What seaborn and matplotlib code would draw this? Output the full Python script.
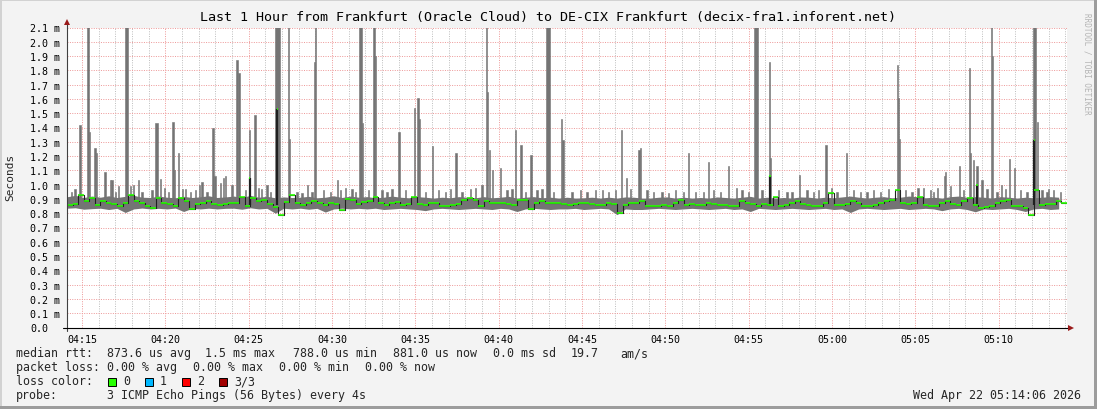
import matplotlib
matplotlib.use("Agg")
import matplotlib.pyplot as plt
import seaborn as sns
import pandas as pd
from matplotlib.patches import Rectangle

# ---------------- data (times in minutes after 04:00) ----------------
TITLE = "Last 1 Hour from Frankfurt (Oracle Cloud) to DE-CIX Frankfurt (decix-fra1.inforent.net)"
T_START = 14.1
T_END = 74.1
MEDIAN_STEP_MIN = 1 / 3    # 20 s
SMOKE_STEP_MIN = 0.5       # 30 s

median_ms = [
    0.855, 0.862, 0.930, 0.885, 0.905, 0.860, 0.884, 0.872, 0.868, 0.850, 0.875, 0.925, 0.884, 0.870, 0.848,
    0.840, 0.905, 0.875, 0.868, 0.850, 0.905, 0.884, 0.830, 0.865, 0.872, 0.884, 0.868, 0.860, 0.862, 0.870,
    0.875, 0.915, 0.850, 0.905, 0.884, 0.892, 0.862, 0.845, 0.790, 0.880, 0.930, 0.872, 0.860, 0.870, 0.884,
    0.870, 0.860, 0.875, 0.868, 0.820, 0.900, 0.895, 0.862, 0.880, 0.885, 0.915, 0.872, 0.860, 0.872, 0.882,
    0.860, 0.865, 0.912, 0.862, 0.860, 0.872, 0.875, 0.848, 0.850, 0.860, 0.862, 0.895, 0.905, 0.892, 0.850,
    0.885, 0.870, 0.875, 0.872, 0.862, 0.860, 0.895, 0.890, 0.830, 0.875, 0.884, 0.872, 0.870, 0.872, 0.868,
    0.860, 0.862, 0.872, 0.870, 0.862, 0.858, 0.860, 0.872, 0.868, 0.800, 0.860, 0.872, 0.875, 0.884, 0.850,
    0.848, 0.852, 0.860, 0.848, 0.872, 0.895, 0.860, 0.862, 0.860, 0.858, 0.872, 0.862, 0.860, 0.858, 0.848,
    0.850, 0.884, 0.872, 0.868, 0.848, 0.862, 0.860, 0.915, 0.848, 0.860, 0.872, 0.884, 0.862, 0.860, 0.848,
    0.850, 0.875, 0.945, 0.860, 0.860, 0.862, 0.884, 0.875, 0.848, 0.850, 0.860, 0.872, 0.884, 0.895, 0.960,
    0.872, 0.862, 0.875, 0.915, 0.860, 0.848, 0.850, 0.872, 0.884, 0.862, 0.860, 0.884, 0.905, 0.860, 0.837,
    0.845, 0.852, 0.872, 0.884, 0.895, 0.850, 0.848, 0.838, 0.790, 0.965, 0.860, 0.862, 0.862, 0.884, 0.872,
]

smoke_low_ms = [
    0.835, 0.838, 0.828, 0.832, 0.835, 0.826, 0.834, 0.805, 0.830, 0.836,
    0.830, 0.834, 0.830, 0.836, 0.812, 0.834, 0.830, 0.835, 0.830, 0.834,
    0.835, 0.828, 0.838, 0.830, 0.834, 0.800, 0.835, 0.830, 0.835, 0.828,
    0.834, 0.808, 0.830, 0.835, 0.830, 0.834, 0.830, 0.835, 0.826, 0.830,
    0.834, 0.830, 0.826, 0.818, 0.830, 0.834, 0.830, 0.826, 0.830, 0.834,
    0.830, 0.826, 0.834, 0.830, 0.812, 0.830, 0.834, 0.830, 0.826, 0.830,
    0.830, 0.834, 0.826, 0.830, 0.834, 0.830, 0.790, 0.830, 0.826, 0.826,
    0.830, 0.834, 0.830, 0.826, 0.830, 0.834, 0.830, 0.826, 0.830, 0.834,
    0.826, 0.830, 0.812, 0.834, 0.830, 0.826, 0.830, 0.834, 0.830, 0.826,
    0.830, 0.834, 0.826, 0.830, 0.805, 0.830, 0.834, 0.830, 0.826, 0.830,
    0.834, 0.826, 0.830, 0.834, 0.830, 0.818, 0.830, 0.834, 0.826, 0.810,
    0.830, 0.826, 0.830, 0.834, 0.826, 0.812, 0.830, 0.834, 0.826, 0.830,
]

smoke_high_ms = [
    0.915, 0.925, 0.910, 0.920, 0.912, 0.922, 0.910, 0.918, 0.925, 0.912,
    0.910, 0.920, 0.912, 0.908, 0.918, 0.910, 0.915, 0.922, 0.910, 0.914,
    0.920, 0.910, 0.925, 0.912, 0.918, 0.908, 0.914, 0.910, 0.912, 0.918,
    0.908, 0.912, 0.922, 0.910, 0.920, 0.912, 0.916, 0.908, 0.912, 0.920,
    0.912, 0.908, 0.916, 0.912, 0.906, 0.912, 0.908, 0.916, 0.912, 0.908,
    0.916, 0.908, 0.912, 0.918, 0.906, 0.912, 0.916, 0.908, 0.912, 0.906,
    0.912, 0.906, 0.908, 0.912, 0.906, 0.912, 0.906, 0.914, 0.912, 0.906,
    0.906, 0.912, 0.914, 0.906, 0.912, 0.906, 0.910, 0.906, 0.914, 0.910,
    0.906, 0.912, 0.918, 0.906, 0.912, 0.906, 0.910, 0.906, 0.914, 0.912,
    0.906, 0.912, 0.908, 0.914, 0.920, 0.912, 0.906, 0.912, 0.916, 0.908,
    0.912, 0.920, 0.916, 0.908, 0.912, 0.906, 0.916, 0.920, 0.912, 0.916,
    0.912, 0.906, 0.916, 0.912, 0.906, 0.912, 0.908, 0.912, 0.916, 0.912,
]

# tall smoke spikes: centre time (min), top value (ms), duration (s)
spike_time_min = [
    14.88, 15.34, 15.44, 15.78, 15.86, 16.40, 16.80, 17.18, 17.67, 18.07, 18.37, 19.47, 19.97,
    20.47, 20.57, 20.79, 21.05, 22.05, 22.86, 22.98, 23.48, 24.32, 24.42, 25.06, 25.40, 25.58,
    26.10, 26.72, 27.40, 27.46, 28.55, 28.93, 29.01, 30.31, 30.81, 31.71, 31.81, 32.53, 32.63,
    34.02, 34.94, 35.16, 35.22, 36.02, 37.44,
    39.00, 39.27, 39.33, 39.43, 39.63, 40.13, 41.00, 41.34, 41.94, 42.96, 43.76, 43.84, 46.25,
    47.35, 47.65, 48.41, 48.53,
    51.40, 52.61, 53.81, 54.27, 55.43, 56.27, 56.33, 58.04, 59.64, 59.98, 60.88,
    63.91, 63.97, 64.03, 65.16, 66.34, 66.74, 66.82, 67.64, 68.24, 68.32, 68.50, 68.70, 69.00,
    69.59, 69.65, 70.15, 70.65, 70.93, 72.15, 72.31, 73.01,
]
spike_top_ms = [
    1.42, 2.30, 1.37, 1.26, 1.22, 1.09, 1.03, 0.99, 2.30, 1.00, 1.03, 1.43, 0.98,
    1.44, 1.10, 1.22, 0.97, 1.00, 1.40, 1.06, 1.05, 1.87, 1.78, 1.38, 1.49, 0.98,
    1.00, 2.30, 2.30, 1.32, 1.00, 1.86, 2.30, 1.03, 0.98, 2.30, 1.43, 2.30, 1.90,
    1.37, 1.54, 1.61, 1.46, 1.27, 1.22,
    1.00, 2.30, 1.65, 1.24, 1.10, 1.12, 1.38, 1.28, 1.21, 2.30, 1.46, 1.31, 0.96,
    1.38, 1.05, 1.24, 1.26,
    1.22, 1.16, 1.13, 0.98, 2.30, 1.86, 1.19, 1.07, 1.28, 0.98, 1.22,
    1.84, 1.61, 1.32, 0.98, 0.98, 1.06, 1.09, 1.13, 1.82, 1.22, 1.17, 1.13, 1.03,
    2.30, 1.90, 1.00, 1.18, 1.12, 2.30, 1.44, 0.97,
]
spike_dur_s = [
    8, 8, 4, 4, 4, 8, 4, 4, 12, 4, 4, 8, 4,
    8, 4, 4, 4, 4, 8, 4, 4, 8, 4, 4, 8, 4,
    8, 16, 4, 4, 4, 4, 4, 4, 4, 8, 4, 8, 4,
    4, 4, 4, 4, 4, 4,
    4, 4, 4, 4, 4, 4, 4, 4, 4, 12, 4, 8, 4,
    4, 4, 8, 4,
    4, 4, 4, 4, 12, 4, 4, 4, 4, 4, 4,
    4, 4, 4, 4, 4, 4, 4, 4, 4, 4, 4, 4, 4,
    4, 4, 4, 4, 4, 12, 4, 4,
]

# small smoke spikes along the band (4 s each): time (min), top (ms)
small_spike_time_min = [
    14.35, 14.58, 16.70, 17.00, 17.90, 18.60, 19.20, 19.70, 20.20, 21.20, 21.50, 21.80, 22.20,
    22.50, 23.30, 23.60, 24.00, 24.80, 25.75, 26.30, 27.90, 28.20, 28.80, 29.50, 29.90, 30.50,
    31.20, 31.40, 32.20, 33.00, 33.30, 33.60, 34.40, 35.60, 36.40, 36.80, 37.10, 37.80, 38.30,
    38.60, 40.50, 40.80, 41.60, 42.30, 42.60, 43.30, 44.40, 44.90, 45.30, 45.80, 46.60, 47.00,
    47.90, 48.90, 49.30, 49.80, 50.20, 50.60, 51.10, 51.80, 52.30, 52.90, 53.30, 54.60, 55.00,
    55.80, 56.80, 57.30, 57.60, 58.50, 58.90, 59.20, 60.30, 61.30, 61.70, 62.10, 62.50, 62.90,
    63.40, 64.40, 64.80, 65.50, 65.90, 66.10, 67.10, 67.90, 69.30, 69.90, 70.40, 71.30, 71.70,
    72.60, 72.90, 73.30, 73.70,
]
small_spike_top_ms = [
    0.95, 0.97, 1.03, 0.95, 0.99, 0.95, 0.96, 1.04, 0.95, 0.97, 0.95, 0.96, 1.02,
    0.95, 1.01, 1.06, 1.00, 0.96, 0.97, 0.95, 0.95, 0.94, 0.95, 0.96, 0.95, 0.96,
    0.97, 0.95, 0.96, 0.96, 0.95, 0.97, 0.96, 0.95, 0.96, 0.95, 0.97, 0.95, 0.97,
    0.98, 0.96, 0.97, 0.95, 0.96, 0.97, 0.95, 0.95, 0.96, 0.95, 0.96, 0.95, 0.96,
    0.97, 0.96, 0.95, 0.95, 0.94, 0.96, 0.95, 0.95, 0.95, 0.96, 0.95, 0.96, 0.95,
    0.96, 0.96, 0.95, 0.95, 0.96, 0.95, 0.96, 0.95, 0.96, 0.95, 0.95, 0.96, 0.95,
    0.97, 0.96, 0.95, 0.98, 0.96, 0.95, 0.99, 0.96, 0.97, 0.95, 0.97, 0.96, 0.95,
    0.96, 0.95, 0.96, 0.95,
]

# short median excursions (time min, value ms)
median_spike_time_min = [25.06, 26.72, 56.27, 68.70, 72.14]
median_spike_ms = [1.05, 1.53, 1.06, 1.00, 1.31]

xtick_minutes = [15, 20, 25, 30, 35, 40, 45, 50, 55, 60, 65, 70]
xtick_labels = ["04:15", "04:20", "04:25", "04:30", "04:35", "04:40",
                "04:45", "04:50", "04:55", "05:00", "05:05", "05:10"]
ytick_values = [0.0, 0.1, 0.2, 0.3, 0.4, 0.5, 0.6, 0.7, 0.8, 0.9, 1.0,
                1.1, 1.2, 1.3, 1.4, 1.5, 1.6, 1.7, 1.8, 1.9, 2.0, 2.1]
ytick_labels = ["0.0"] + [f"{v:.1f} m" for v in ytick_values[1:]]

legend_rtt = [("median rtt:", 16), ("873.6 us avg", 107), ("1.5 ms max", 205),
              ("788.0 us min", 293), ("881.0 us now", 393), ("0.0 ms sd", 493),
              ("19.7", 571), ("am/s", 620)]
legend_loss = [("packet loss:", 16), ("0.00 % avg", 107), ("0.00 % max", 193),
               ("0.00 % min", 279), ("0.00 % now", 365)]
loss_names = ["0", "1", "2", "3/3"]
loss_colors = ["#26ff00", "#00b8ff", "#ff0000", "#a10000"]
probe_text = "3 ICMP Echo Pings (56 Bytes) every 4s"
date_text = "Wed Apr 22 05:14:06 2026"

# ---------------- style ----------------
W, H = 1097, 410
sns.set_style("white")
plt.rcParams["font.family"] = ["DejaVu Sans Mono", "DejaVu Sans"]
plt.rcParams["lines.scale_dashes"] = False
BG = "#f3f3f3"
SMOKE = "#747474"

fig = plt.figure(figsize=(W / 100, H / 100), dpi=100, facecolor=BG)
ax = fig.add_axes([67 / W, (H - 328.5) / H, 1000 / W, 300 / H])
ax.set_facecolor("white")

med_t = [T_START + i * MEDIAN_STEP_MIN for i in range(len(median_ms))]
smk_t = [T_START + i * SMOKE_STEP_MIN for i in range(len(smoke_low_ms))]
med_df = pd.DataFrame({"t": med_t + [T_END], "v": median_ms + [median_ms[-1]]})

# smoke
ax.fill_between(smk_t, smoke_low_ms, smoke_high_ms, color=SMOKE, lw=0, zorder=2)
ax.bar(small_spike_time_min, [top - 0.88 for top in small_spike_top_ms], bottom=0.88,
       width=4 / 60, color=SMOKE, edgecolor=SMOKE, linewidth=0.4, zorder=2)
ax.bar(spike_time_min, [top - 0.88 for top in spike_top_ms], bottom=0.88,
       width=[d / 60 for d in spike_dur_s], color=SMOKE, edgecolor=SMOKE,
       linewidth=0.4, zorder=2)

# median line (black) and loss-colored median band
sns.lineplot(data=med_df, x="t", y="v", drawstyle="steps-post", estimator=None,
             color="#202020", linewidth=0.8, ax=ax, zorder=3)
ax.vlines(median_spike_time_min, [0.86] * len(median_spike_ms), median_spike_ms,
          color="#202020", linewidth=1.6, zorder=3)
ax.hlines(median_ms, med_t, [t + MEDIAN_STEP_MIN for t in med_t],
          color=loss_colors[0], linewidth=1.2, zorder=4)
ax.hlines(median_spike_ms, [t - 0.04 for t in median_spike_time_min],
          [t + 0.04 for t in median_spike_time_min],
          color=loss_colors[0], linewidth=1.2, zorder=4)

ax.set_xlim(T_START, T_END)
ax.set_ylim(0, 2.1)
ax.set_xlabel("")
ax.set_ylabel("")

# grid
ax.set_xticks(xtick_minutes, xtick_labels)
ax.set_xticks(list(range(15, 75)), minor=True)
ax.set_yticks(ytick_values, ytick_labels)
ax.set_axisbelow(True)
ax.grid(which="major", axis="both", color="#ee9c9c", linewidth=0.72,
        linestyle=(0, (0.72, 1.0)))
ax.grid(which="minor", axis="x", color="#c0c0c0", linewidth=0.72,
        linestyle=(0, (0.72, 1.0)))
for s in ax.spines.values():
    s.set_visible(False)
ax.tick_params(axis="x", which="major", direction="out", length=2, width=0.7,
               color="#404040", labelsize=7.2, pad=2.5, labelcolor="#000000")
ax.tick_params(axis="x", which="minor", direction="out", length=1.2, width=0.6,
               color="#808080")
ax.tick_params(axis="y", which="major", direction="out", length=2.2, width=0.7,
               color="#404040", labelsize=7.2, pad=24.4, labelcolor="#000000")
for lbl in ax.get_yticklabels():
    lbl.set_horizontalalignment("left")

# axis lines with arrows
ax.plot([0, 0], [-3 / 300, 1 + 5 / 300], transform=ax.transAxes, color="#404040",
        lw=0.8, clip_on=False, zorder=6)
ax.plot([-4 / 1000, 1 + 2 / 1000], [0, 0], transform=ax.transAxes, color="#000000",
        lw=0.8, clip_on=False, zorder=6)
ax.plot([0], [1 + 6 / 300], marker="^", markersize=4, color="#9a1a1a",
        transform=ax.transAxes, clip_on=False, zorder=7, markeredgewidth=0)
ax.plot([1 + 4 / 1000], [0], marker=">", markersize=4, color="#9a1a1a",
        transform=ax.transAxes, clip_on=False, zorder=7, markeredgewidth=0)

# ---------------- texts ----------------
def ftext(x, y, s, **kw):
    fig.text(x / W, 1 - y / H, s, **kw)

ftext(548, 18, TITLE, ha="center", va="center", fontsize=9.6, color="#000000")
ftext(10, 177, "Seconds", ha="center", va="center", rotation=90, fontsize=8.0)
ftext(1087, 64, "RRDTOOL / TOBI OETIKER", ha="center", va="center", rotation=270,
      fontsize=5.5, color="#b4b4b4")

LFS = 8.35
for s, x in legend_rtt:
    ftext(x, 354, s, ha="left", va="center", fontsize=LFS)
for s, x in legend_loss:
    ftext(x, 368, s, ha="left", va="center", fontsize=LFS)
ftext(16, 382, "loss color:", ha="left", va="center", fontsize=LFS)
box_x = [108, 145, 182, 219]
for name, col, bx in zip(loss_names, loss_colors, box_x):
    fig.patches.append(Rectangle((bx / W, 1 - 386.5 / H), 8 / W, 8 / H,
                                 transform=fig.transFigure, facecolor=col,
                                 edgecolor="#000000", linewidth=0.7))
    ftext(bx + 15, 382, name, ha="left", va="center", fontsize=LFS)
ftext(16, 396, "probe:", ha="left", va="center", fontsize=LFS)
ftext(107, 396, probe_text, ha="left", va="center", fontsize=LFS)
ftext(1081, 396, date_text, ha="right", va="center", fontsize=LFS)

# frame
fig.patches.append(Rectangle((0, 1 - 2 / H), 1, 2 / H, transform=fig.transFigure,
                             facecolor="#d2d2d2", edgecolor="none"))
fig.patches.append(Rectangle((0, 0), 2 / W, 1, transform=fig.transFigure,
                             facecolor="#d2d2d2", edgecolor="none"))
fig.patches.append(Rectangle((0, 0), 1, 3 / H, transform=fig.transFigure,
                             facecolor="#9c9c9c", edgecolor="none"))
fig.patches.append(Rectangle((1 - 3 / W, 0), 3 / W, 1, transform=fig.transFigure,
                             facecolor="#9c9c9c", edgecolor="none"))

fig.savefig("out.png", dpi=100, facecolor=BG)
